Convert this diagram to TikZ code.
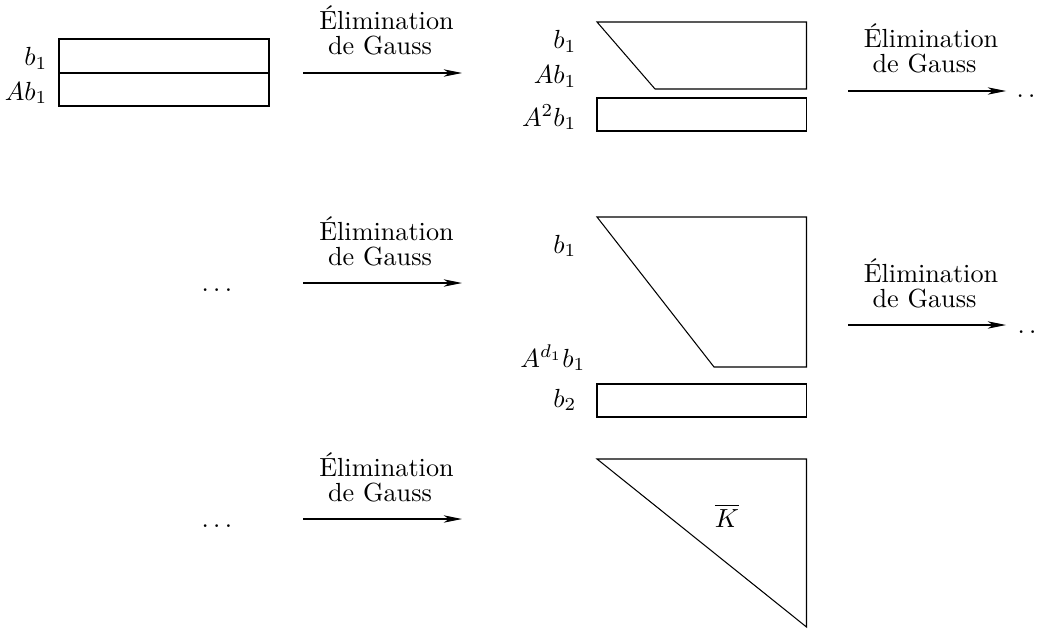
\documentclass[tikz,border=0pt]{standalone}
\usetikzlibrary{arrows.meta}
\begin{document}
\begin{tikzpicture}[x=0.3817pt,y=-0.3817pt,
  lab/.style={anchor=base east, inner sep=0pt},
  txt/.style={anchor=base, inner sep=0pt},
  dotsnode/.style={anchor=base west, inner sep=0pt},
  gauss/.style={-{Stealth[length=7pt,width=2.8pt,inset=2pt]}},
  block/.style={draw, line join=miter}]
\useasboundingbox (0,0) rectangle (1042,628);

% Row 1, left block
\draw[block] (59,39) rectangle (269,106);
\draw[block] (59,73) -- (269,73);
\node[lab] (r1b1) at (48,66) {$b_1$};
\node[lab] (r1Ab1) at (48,100) {$Ab_1$};

% Row 1, middle
\draw[block] (597,22) -- (806.5,22) -- (806.5,89) -- (655,89) -- cycle;
\draw[block] (597,98) rectangle (806.5,131);
\node[lab] (m1b1) at (577,49) {$b_1$};
\node[lab] (m1Ab1) at (577,84) {$Ab_1$};
\node[lab] (m1A2b1) at (577,126) {$A^2b_1$};

% Row 2, middle
\draw[block] (597,217) -- (806.5,217) -- (806.5,367) -- (714,367) -- cycle;
\draw[block] (597,384) rectangle (806.5,417);
\node[lab] (m2b1) at (577,253) {$b_1$};
\node[lab] (m2Adb1) at (586,367) {$A^{d_1}b_1$};
\node[lab] (m2b2) at (577,407) {$b_2$};

% Row 3, triangle
\draw[block] (597,459) -- (806.5,459) -- (806.5,627) -- cycle;
\node[txt] (Kbar) at (727,527) {$\overline{K}$};

% dots
\node[dotsnode] (d2l) at (201,291) {$\ldots$};
\node[dotsnode] (d3l) at (201,527) {$\ldots$};
\node[dotsnode] (d1r) at (1016,98) {$\ldots$};
\node[dotsnode] (d2r) at (1017,333) {$\ldots$};

% Gauss elimination arrows
\foreach \n/\xa/\xb/\y in {a/303/462/73, b/848/1006/91, c/303/462/283, d/848/1006/325, e/303/462/519} {
  \coordinate (\n s) at (\xa,\y);
  \coordinate (\n e) at (\xb,\y);
  \draw[gauss] (\n s) -- (\n e);
  \node[txt] (\n t1) at ({(\xa+\xb)/2+4},{\y-43}) {Élimination};
  \node[txt] (\n t2) at ({(\xa+\xb)/2-2.5},{\y-18}) {de Gauss};
}
\end{tikzpicture}
\end{document}
